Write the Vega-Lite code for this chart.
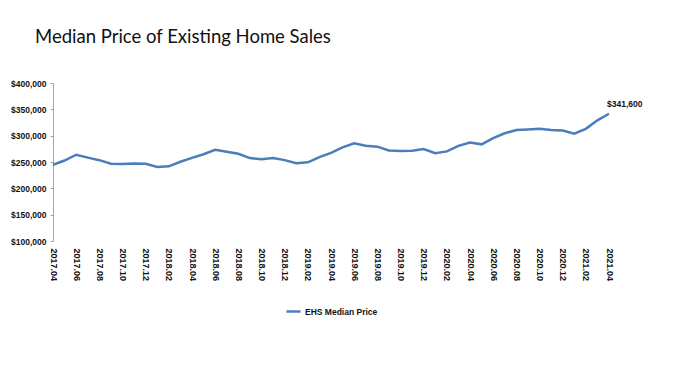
{
  "$schema": "https://vega.github.io/schema/vega-lite/v6.json",
  "width": 556,
  "height": 158,
  "autosize": {"type": "none"},
  "padding": {"left": 53, "top": 83, "right": 71, "bottom": 137},
  "background": "white",
  "title": {
    "text": "Median Price of Existing Home Sales",
    "anchor": "start",
    "frame": "group",
    "dx": -18,
    "offset": 33,
    "font": "Lato",
    "fontSize": 18.5,
    "fontWeight": "normal",
    "color": "#111111"
  },
  "config": {"view": {"stroke": null}},
  "data": {
    "values": [
      {"month": "2017.04", "price": 244800},
      {"month": "2017.05", "price": 252800},
      {"month": "2017.06", "price": 263800},
      {"month": "2017.07", "price": 258300},
      {"month": "2017.08", "price": 253500},
      {"month": "2017.09", "price": 246800},
      {"month": "2017.10", "price": 246000},
      {"month": "2017.11", "price": 247000},
      {"month": "2017.12", "price": 246500},
      {"month": "2018.01", "price": 240500},
      {"month": "2018.02", "price": 241700},
      {"month": "2018.03", "price": 250400},
      {"month": "2018.04", "price": 257900},
      {"month": "2018.05", "price": 264800},
      {"month": "2018.06", "price": 273000},
      {"month": "2018.07", "price": 269300},
      {"month": "2018.08", "price": 265600},
      {"month": "2018.09", "price": 257400},
      {"month": "2018.10", "price": 255400},
      {"month": "2018.11", "price": 257700},
      {"month": "2018.12", "price": 253600},
      {"month": "2019.01", "price": 247500},
      {"month": "2019.02", "price": 249400},
      {"month": "2019.03", "price": 259400},
      {"month": "2019.04", "price": 267300},
      {"month": "2019.05", "price": 277700},
      {"month": "2019.06", "price": 285400},
      {"month": "2019.07", "price": 280800},
      {"month": "2019.08", "price": 279100},
      {"month": "2019.09", "price": 271900},
      {"month": "2019.10", "price": 270900},
      {"month": "2019.11", "price": 271300},
      {"month": "2019.12", "price": 274500},
      {"month": "2020.01", "price": 266600},
      {"month": "2020.02", "price": 270100},
      {"month": "2020.03", "price": 280700},
      {"month": "2020.04", "price": 286800},
      {"month": "2020.05", "price": 283500},
      {"month": "2020.06", "price": 295300},
      {"month": "2020.07", "price": 304600},
      {"month": "2020.08", "price": 310600},
      {"month": "2020.09", "price": 311800},
      {"month": "2020.10", "price": 313000},
      {"month": "2020.11", "price": 310800},
      {"month": "2020.12", "price": 309800},
      {"month": "2021.01", "price": 303900},
      {"month": "2021.02", "price": 313000},
      {"month": "2021.03", "price": 329100},
      {"month": "2021.04", "price": 341600, "label": "$341,600"}
    ]
  },
  "encoding": {
    "x": {
      "field": "month",
      "type": "ordinal",
      "sort": null,
      "scale": {"type": "point", "padding": 0},
      "axis": {
        "title": null,
        "domain": false,
        "ticks": false,
        "labelAngle": 90,
        "labelAlign": "left",
        "labelBaseline": "middle",
        "labelPadding": 7,
        "labelFont": "Liberation Sans",
        "labelFontWeight": "bold",
        "labelFontSize": 9,
        "labelColor": "#111111",
        "values": ["2017.04","2017.06","2017.08","2017.10","2017.12","2018.02","2018.04","2018.06","2018.08","2018.10","2018.12","2019.02","2019.04","2019.06","2019.08","2019.10","2019.12","2020.02","2020.04","2020.06","2020.08","2020.10","2020.12","2021.02","2021.04"]
      }
    },
    "y": {
      "field": "price",
      "type": "quantitative",
      "scale": {"domain": [100000, 400000], "nice": false, "zero": false},
      "axis": {
        "title": null,
        "grid": false,
        "values": [100000, 150000, 200000, 250000, 300000, 350000, 400000],
        "format": "$,.0f",
        "domainColor": "#a6a6a6",
        "tickColor": "#a6a6a6",
        "tickSize": 3,
        "labelPadding": 4,
        "labelFont": "Liberation Sans",
        "labelFontWeight": "bold",
        "labelFontSize": 8.5,
        "labelColor": "#111111"
      }
    }
  },
  "layer": [
    {
      "mark": {"type": "line", "strokeWidth": 2.5, "color": "#4a7ebb"},
      "encoding": {
        "color": {
          "datum": "EHS Median Price",
          "scale": {"range": ["#4a7ebb"]},
          "legend": {
            "title": null,
            "orient": "none",
            "legendX": 232,
            "legendY": 220,
            "direction": "horizontal",
            "symbolType": "stroke",
            "symbolStrokeWidth": 2.5,
            "symbolSize": 200,
            "labelOffset": 3,
            "labelFont": "Liberation Sans",
            "labelFontWeight": "bold",
            "labelFontSize": 8.5,
            "labelColor": "#111111"
          }
        }
      }
    },
    {
      "transform": [{"filter": "isValid(datum.label)"}],
      "mark": {"type": "text", "align": "left", "baseline": "bottom", "dx": -2, "dy": -5, "font": "Liberation Sans", "fontWeight": "bold", "fontSize": 8.5, "color": "#111111"},
      "encoding": {"text": {"field": "label"}}
    }
  ]
}
